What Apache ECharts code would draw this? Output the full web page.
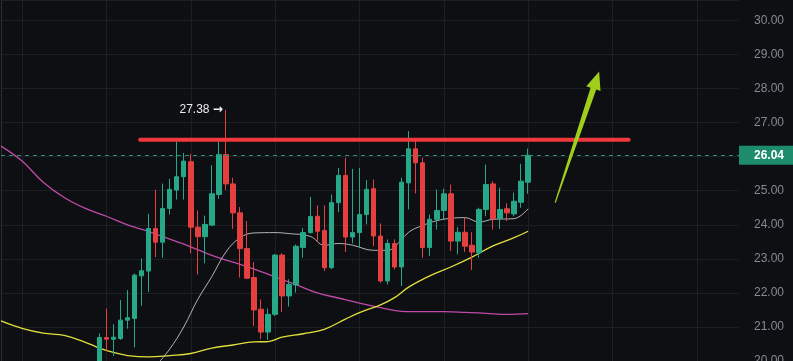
<!DOCTYPE html>
<html>
<head>
<meta charset="utf-8">
<script src="https://cdn.jsdelivr.net/npm/echarts@6/dist/echarts.min.js"></script>
<style>
html,body{margin:0;padding:0;background:#0e0f13;}
#chart{width:793px;height:361px;}
</style>
</head>
<body>
<div id="chart"></div>
<script>
// ---- data ----
const categoryCount = 106;          // slots on the time axis (incl. empty space right)
const firstCandleSlot = 14;         // slot index of the first visible candle
const opens  = [19.70,20.69,20.64,20.66,21.20,21.25,22.50,22.64,23.89,23.49,24.48,25.02,25.41,25.85,23.93,23.65,23.99,24.89,26.06,25.20,24.35,23.30,22.45,21.52,20.85,21.37,23.11,21.91,22.23,23.33,23.77,24.25,23.83,22.74,24.65,25.45,23.64,23.77,24.30,25.06,23.67,22.35,23.45,22.76,25.23,26.23,25.82,23.33,24.16,24.42,24.91,23.52,23.78,23.40,23.18,24.45,25.20,24.18,24.47,24.32,24.66,25.25];
const closes = [20.69,20.64,20.70,21.20,21.27,22.52,22.65,23.89,23.49,24.48,25.04,25.41,25.87,23.93,23.65,24.01,24.91,26.06,25.20,24.35,23.30,22.43,21.50,20.85,21.37,23.11,21.91,22.25,23.37,23.77,24.24,23.81,22.74,24.65,25.45,23.64,23.77,24.30,25.04,23.67,22.35,23.45,22.76,25.25,26.23,25.82,23.33,24.16,24.42,24.91,23.52,23.78,23.37,23.20,24.45,25.18,24.18,24.45,24.35,24.69,25.28,26.04];
const lows   = [19.50,20.30,20.15,20.62,20.95,20.40,21.62,22.03,23.05,23.03,24.30,24.74,24.74,23.16,22.54,22.87,23.96,24.76,25.02,23.88,22.45,22.42,21.03,20.64,20.62,21.32,21.44,21.60,22.01,23.03,23.74,23.52,22.64,22.70,24.37,23.20,23.45,23.33,24.01,23.37,22.30,22.25,22.69,22.20,24.45,24.92,23.03,23.08,23.86,24.14,23.23,23.13,23.20,22.67,23.03,24.25,23.86,23.88,24.11,24.25,24.50,24.91];
const highs  = [20.81,21.54,21.08,21.79,22.08,22.57,23.01,24.32,25.03,25.21,25.35,26.45,26.11,26.08,24.42,24.27,25.75,26.44,27.38,25.38,24.52,24.11,22.90,21.81,21.54,23.14,23.16,22.40,23.42,23.91,24.82,24.57,24.57,24.89,25.67,25.97,25.64,25.67,25.31,25.33,24.04,23.57,23.57,25.38,26.75,26.52,25.97,24.30,25.04,25.06,25.18,23.93,24.21,23.78,24.50,25.77,25.28,25.09,24.63,24.94,25.79,26.24];

// moving averages: [slot, value] readings
const maPinkSlots = [0,3,6,9,12,15,18,21,24,27,30,33,36,39,42,45,48,51,54,57,60,63,66,69,72,75];
const maPinkVals  = [26.31,25.87,25.25,24.80,24.48,24.25,24.00,23.80,23.58,23.35,23.10,22.90,22.70,22.47,22.24,22.00,21.85,21.70,21.57,21.46,21.45,21.45,21.43,21.40,21.37,21.39];
const maYellowSlots = [0,3,6,9,12,14,16,18,21,24,27,30,33,36,38,40,43,46,49,51,54,56,58,61,64,67,70,73,75];
const maYellowVals  = [21.18,20.96,20.82,20.75,20.55,20.38,20.25,20.16,20.12,20.16,20.22,20.38,20.47,20.56,20.57,20.70,20.80,20.93,21.23,21.42,21.65,21.86,22.17,22.50,22.76,23.05,23.38,23.62,23.81];
const maWhiteSlots = [22,24,26,28,30,32,34,36,39,41,44,46,48,50,53,55,56,58,60,62,64,66,68,70,73,75];
const maWhiteVals  = [19.85,20.35,21.00,21.81,22.48,23.20,23.62,23.76,23.77,23.74,23.66,23.40,23.45,23.40,23.25,23.25,23.35,23.78,23.98,24.12,24.19,24.21,24.08,24.16,24.18,24.47];

const lastPrice = 26.04;
const peakLabel = 27.38;
const peakCandle = 18;
const resistance = { from: 19.8, to: 89.3, value: 26.50 };
const arrowData = { x0: 78.85, y0: 24.65, x1: 85.1, y1: 28.50 };

const yMin = 20, yMax = 30.6, yStep = 1;

// ---- build ----
const categories = [];
for (let i = 0; i < categoryCount; i++) categories.push(String(i));
const candleData = categories.map(() => '-');
for (let k = 0; k < opens.length; k++) {
  candleData[firstCandleSlot + k] = [opens[k], closes[k], lows[k], highs[k]];
}
const pairs = (s, v) => s.map((x, i) => [x, v[i]]);
const isStep = v => Math.abs(v - Math.round(v)) < 1e-6;

const chart = echarts.init(document.getElementById('chart'), null, {renderer: 'canvas'});
const font = 'Liberation Sans, Arial, sans-serif';

chart.setOption({
  backgroundColor: '#0e0f13',
  animation: false,
  grid: { left: 1, right: 54, top: 0, bottom: 0, outerBoundsMode: 'none', containLabel: false },
  xAxis: [{
    type: 'category', data: categories, boundaryGap: false,
    axisLine: {show: false}, axisTick: {show: false}, axisLabel: {show: false},
    splitLine: { show: true, interval: (i) => (i - 3) % 12 === 0, lineStyle: {color: '#1c1f24', width: 1} }
  }, {
    type: 'value', min: 0, max: categoryCount - 1, show: false
  }],
  yAxis: {
    type: 'value', position: 'right', min: yMin, max: yMax, interval: yStep,
    axisLine: {show: true, lineStyle: {color: '#2a2d33'}},
    axisTick: {show: false},
    axisLabel: { color: '#868991', fontSize: 12, fontFamily: font, margin: 15, showMaxLabel: false,
                 formatter: v => isStep(v) ? v.toFixed(2) : '' },
    splitLine: { lineStyle: {color: '#1c1f24', width: 1} }
  },
  series: [
    {
      type: 'line', data: pairs(maPinkSlots, maPinkVals), smooth: 0.4, symbol: 'none',
      lineStyle: {color: '#c04aa8', width: 1.3}, z: 2
    },
    {
      type: 'line', data: pairs(maYellowSlots, maYellowVals), smooth: 0.4, symbol: 'none',
      lineStyle: {color: '#e3df3c', width: 1.3}, z: 2
    },
    {
      type: 'line', data: pairs(maWhiteSlots, maWhiteVals), smooth: 0.4, symbol: 'none',
      lineStyle: {color: '#cfcfcf', width: 1, opacity: 0.85}, z: 2
    },
    {
      type: 'candlestick', data: candleData, barWidth: 5, z: 3,
      itemStyle: { color: '#26a889', color0: '#e5403f', borderColor: '#26a889', borderColor0: '#e5403f', borderWidth: 1 },
      markLine: {
        symbol: ['none', 'none'], silent: true,
        data: [{ yAxis: lastPrice, lineStyle: { color: '#2b8f77', type: [4, 4], width: 1 } }],
        lineStyle: { color: '#2b8f77', type: [4, 4], width: 1 },
        label: {
          show: true, position: 'end', distance: 0, formatter: () => lastPrice.toFixed(2),
          color: '#ffffff', fontSize: 12, fontWeight: 'bold', fontFamily: font,
          backgroundColor: '#1c8c6c', padding: [4, 12, 3, 15]
        }
      },
      markPoint: {
        symbol: 'circle', symbolSize: 0, silent: true,
        data: [{ coord: [String(firstCandleSlot + peakCandle), peakLabel] }],
        label: { show: true, position: 'left', distance: 3,
                 formatter: () => '{n|' + peakLabel.toFixed(2) + '} {a|→}',
                 rich: {
                   n: { color: '#ececec', fontSize: 12, fontFamily: font },
                   a: { color: '#ececec', fontSize: 12, fontFamily: 'DejaVu Sans', fontWeight: 'bold' }
                 } }
      }
    },
    {
      type: 'line', xAxisIndex: 1, data: [[resistance.from, resistance.value], [resistance.to, resistance.value]],
      symbol: 'none', lineStyle: {color: '#f0383d', width: 4, cap: 'round'}, z: 4
    },
    {
      type: 'custom', xAxisIndex: 1, z: 5,
      data: [[arrowData.x0, arrowData.y0, arrowData.x1, arrowData.y1]],
      encode: { x: [0, 2], y: [1, 3] },
      renderItem: function (params, api) {
        const a = api.coord([api.value(0), api.value(1)]);
        const b = api.coord([api.value(2), api.value(3)]);
        const dx = b[0] - a[0], dy = b[1] - a[1];
        const len = Math.sqrt(dx * dx + dy * dy);
        const ux = dx / len, uy = dy / len;
        const nx = -uy, ny = ux;
        const headLen = 18, headHalf = 7.5, shaftEnd = 3, shaftStart = 0.6;
        const bx = b[0] - ux * headLen, by = b[1] - uy * headLen;
        const pts = [
          [a[0] + nx * shaftStart, a[1] + ny * shaftStart],
          [bx + nx * shaftEnd, by + ny * shaftEnd],
          [bx + nx * headHalf, by + ny * headHalf],
          [b[0], b[1]],
          [bx - nx * headHalf, by - ny * headHalf],
          [bx - nx * shaftEnd, by - ny * shaftEnd],
          [a[0] - nx * shaftStart, a[1] - ny * shaftStart]
        ];
        return { type: 'polygon', shape: { points: pts }, style: { fill: '#9fcf1b' } };
      }
    }
  ]
});
</script>
</body>
</html>
